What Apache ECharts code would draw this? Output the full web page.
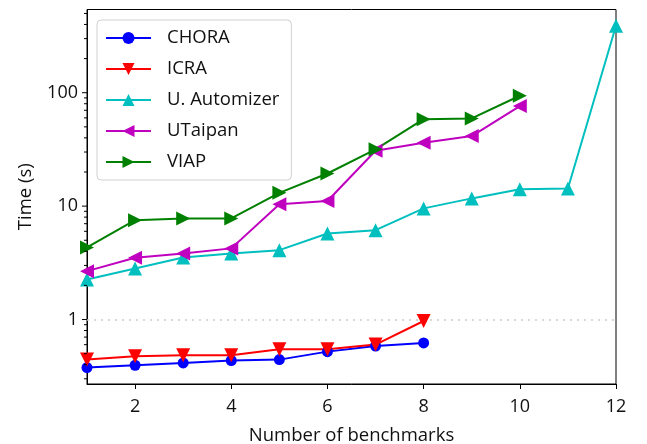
<!DOCTYPE html>
<html><head><meta charset="utf-8">
<script src="https://cdn.jsdelivr.net/npm/echarts@6/dist/echarts.min.js"></script>
<style>html,body{margin:0;padding:0;background:#fff}#c{width:647px;height:444px}</style>
</head><body><div id="c"></div>
<script>
const FONT = 'Open Sans';
const benchmarks = [1,2,3,4,5,6,7,8,9,10,11,12];
const chora = [0.377,0.395,0.414,0.435,0.443,0.521,0.584,0.621];
const icra = [0.443,0.475,0.485,0.485,0.547,0.547,0.601,0.97];
const automizer = [2.25,2.82,3.53,3.83,4.09,5.74,6.14,9.55,11.7,14.1,14.3,390];
const utaipan = [2.67,3.5,3.83,4.24,10.4,11.1,30.8,36.2,41.5,76.3];
const viap = [4.32,7.52,7.79,7.79,13.1,19.4,31.7,58.5,59.4,94];
const xTicks = [2,4,6,8,10,12];
const yMajor = [1,10,100];
const yMinor = [0.3,0.4,0.5,0.6,0.7,0.8,0.9,2,3,4,5,6,7,8,9,20,30,40,50,60,70,80,90,200,300,400,500];
const yMin = 0.27, yMax = 542;

const TRI_DOWN = 'path://M0,0 L10,0 L5,9 Z';
const TRI_UP = 'path://M5,0 L10,9 L0,9 Z';
const TRI_LEFT = 'path://M0,5 L9,0 L9,10 Z';
const TRI_RIGHT = 'path://M0,0 L9,5 L0,10 Z';

function pairs(vals){ return vals.map((v,i)=>[benchmarks[i], v]); }
function lineSeries(name, vals, color, symbol, size){
  return {name, type:'line', data:pairs(vals), color, symbol, symbolSize:size,
    showSymbol:true, lineStyle:{width:2, color}, itemStyle:{color}, z:3};
}
const tickData = yMajor.map(v=>[v,5]).concat(yMinor.map(v=>[v,3]));

const chart = echarts.init(document.getElementById('c'), null, {renderer:'canvas'});
chart.setOption({
  animation:false,
  backgroundColor:'#fff',
  textStyle:{fontFamily:FONT},
  grid:{left:87, right:31, top:9.5, bottom:60, containLabel:false, outerBoundsMode:'none',
    show:true, borderColor:'#000', borderWidth:1, backgroundColor:'transparent'},
  legend:{
    orient:'vertical', left:97, top:20,
    data:['CHORA','ICRA','U. Automizer','UTaipan','VIAP'],
    itemWidth:45, itemHeight:15, itemGap:9,
    padding:[7,12,7,8],
    backgroundColor:'#fff', borderColor:'#d0d0d0', borderWidth:1, borderRadius:4,
    textStyle:{fontFamily:FONT, fontSize:18.5, color:'#111', lineHeight:22, padding:[0,0,0,11]}
  },
  xAxis:{
    type:'value', min:1, max:12,
    name:'Number of benchmarks', nameLocation:'middle', nameGap:42,
    nameTextStyle:{fontFamily:FONT, fontSize:18.5, color:'#111'},
    axisLine:{show:true, lineStyle:{color:'#000', width:1}},
    axisTick:{show:true, length:5, inside:false, customValues:xTicks, lineStyle:{color:'#000'}},
    axisLabel:{customValues:xTicks, fontFamily:FONT, fontSize:18, color:'#111', margin:14},
    splitLine:{show:false}
  },
  yAxis:{
    type:'log', logBase:10, min:yMin, max:yMax,
    name:'Time (s)', nameLocation:'middle', nameGap:52,
    nameTextStyle:{fontFamily:FONT, fontSize:18.5, color:'#111'},
    axisLine:{show:true, lineStyle:{color:'#000', width:1}},
    axisTick:{show:false},
    axisLabel:{fontFamily:FONT, fontSize:18, color:'#111', margin:9,
      formatter:function(v){
        for (const m of yMajor){ if (Math.abs(v-m)/m < 1e-6) return String(m); }
        return '';
      }},
    splitLine:{show:false}
  },
  series:[
    Object.assign(lineSeries('CHORA', chora, '#0000ff', 'circle', 11), {
      markLine:{silent:true, symbol:['none','none'], label:{show:false},
        lineStyle:{color:'#cccccc', type:[2,5], width:1.5}, data:[{yAxis:1}], z:1}
    }),
    lineSeries('ICRA', icra, '#ff0000', TRI_DOWN, 14),
    lineSeries('U. Automizer', automizer, '#00bfbf', TRI_UP, 14),
    lineSeries('UTaipan', utaipan, '#bf00bf', TRI_LEFT, 14),
    lineSeries('VIAP', viap, '#008000', TRI_RIGHT, 14),
    {
      type:'custom', name:'yticks', silent:true, clip:false, z:5,
      data:tickData,
      renderItem:function(params, api){
        const p = api.coord([1, api.value(0)]);
        const len = api.value(1);
        return {type:'line', shape:{x1:p[0]-len, y1:p[1], x2:p[0], y2:p[1]},
          style:{stroke:'#000', lineWidth:1}};
      },
      encode:{x:-1, y:0}
    }
  ]
});
</script></body></html>
